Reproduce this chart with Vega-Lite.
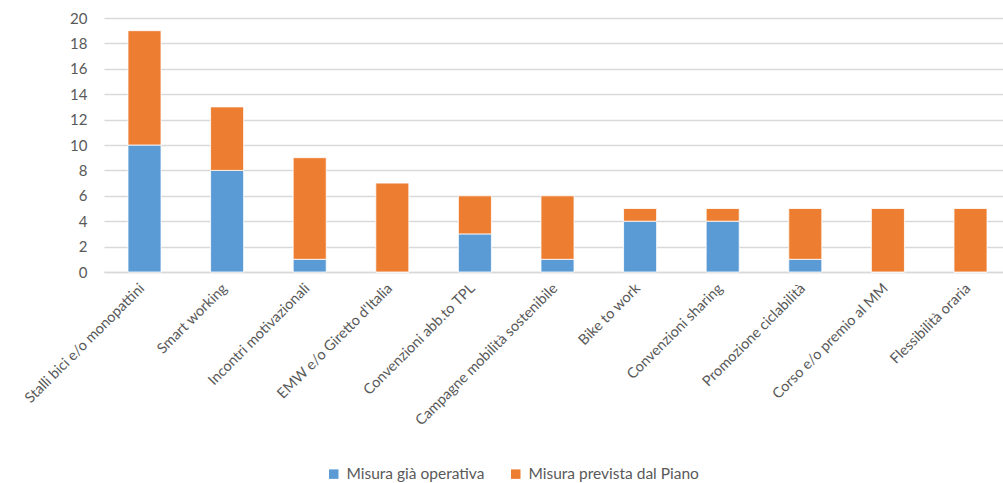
{
  "$schema": "https://vega.github.io/schema/vega-lite/v6.json",
  "width": 899,
  "height": 254,
  "autosize": {"type": "none"},
  "padding": {"left": 104, "top": 18, "right": 0, "bottom": 211},
  "background": "white",
  "config": {
    "font": "Lato",
    "view": {"stroke": null},
    "axis": {"labelColor": "#595959", "labelFont": "Lato", "labelFontSize": 13}
  },
  "data": {
    "values": [
      {"misura": "Stalli bici e/o monopattini", "serie": "Misura già operativa", "ord": 1, "n": 10},
      {"misura": "Stalli bici e/o monopattini", "serie": "Misura prevista dal Piano", "ord": 2, "n": 9},
      {"misura": "Smart working", "serie": "Misura già operativa", "ord": 1, "n": 8},
      {"misura": "Smart working", "serie": "Misura prevista dal Piano", "ord": 2, "n": 5},
      {"misura": "Incontri motivazionali", "serie": "Misura già operativa", "ord": 1, "n": 1},
      {"misura": "Incontri motivazionali", "serie": "Misura prevista dal Piano", "ord": 2, "n": 8},
      {"misura": "EMW e/o Giretto d'Italia", "serie": "Misura già operativa", "ord": 1, "n": 0},
      {"misura": "EMW e/o Giretto d'Italia", "serie": "Misura prevista dal Piano", "ord": 2, "n": 7},
      {"misura": "Convenzioni abb.to TPL", "serie": "Misura già operativa", "ord": 1, "n": 3},
      {"misura": "Convenzioni abb.to TPL", "serie": "Misura prevista dal Piano", "ord": 2, "n": 3},
      {"misura": "Campagne mobilità sostenibile", "serie": "Misura già operativa", "ord": 1, "n": 1},
      {"misura": "Campagne mobilità sostenibile", "serie": "Misura prevista dal Piano", "ord": 2, "n": 5},
      {"misura": "Bike to work", "serie": "Misura già operativa", "ord": 1, "n": 4},
      {"misura": "Bike to work", "serie": "Misura prevista dal Piano", "ord": 2, "n": 1},
      {"misura": "Convenzioni sharing", "serie": "Misura già operativa", "ord": 1, "n": 4},
      {"misura": "Convenzioni sharing", "serie": "Misura prevista dal Piano", "ord": 2, "n": 1},
      {"misura": "Promozione ciclabilità", "serie": "Misura già operativa", "ord": 1, "n": 1},
      {"misura": "Promozione ciclabilità", "serie": "Misura prevista dal Piano", "ord": 2, "n": 4},
      {"misura": "Corso e/o premio al MM", "serie": "Misura già operativa", "ord": 1, "n": 0},
      {"misura": "Corso e/o premio al MM", "serie": "Misura prevista dal Piano", "ord": 2, "n": 5},
      {"misura": "Flessibilità oraria", "serie": "Misura già operativa", "ord": 1, "n": 0},
      {"misura": "Flessibilità oraria", "serie": "Misura prevista dal Piano", "ord": 2, "n": 5}
    ]
  },
  "mark": {"type": "bar", "stroke": "white", "strokeWidth": 0.8},
  "encoding": {
    "x": {
      "field": "misura",
      "type": "nominal",
      "sort": null,
      "scale": {"paddingInner": 0.6, "paddingOuter": 0.242, "align": 0.6},
      "axis": {
        "title": null,
        "labelAngle": -45,
        "labelAlign": "right",
        "labelBaseline": "middle",
        "labelPadding": 14,
        "labelOffset": -2,
        "labelLimit": 400,
        "ticks": false,
        "domainColor": "#D9D9D9",
        "domainWidth": 1.3,
        "labelFontSize": 14.5
      }
    },
    "y": {
      "field": "n",
      "type": "quantitative",
      "stack": "zero",
      "scale": {"domain": [0, 20], "nice": false},
      "axis": {
        "title": null,
        "values": [0, 2, 4, 6, 8, 10, 12, 14, 16, 18, 20],
        "ticks": false,
        "domain": false,
        "gridColor": "#D9D9D9",
        "gridWidth": 1.3,
        "labelPadding": 17,
        "labelFontSize": 15
      }
    },
    "color": {
      "field": "serie",
      "type": "nominal",
      "scale": {
        "domain": ["Misura già operativa", "Misura prevista dal Piano"],
        "range": ["#5B9BD5", "#ED7D31"]
      },
      "legend": {
        "title": null,
        "orient": "none",
        "direction": "horizontal",
        "legendX": 222,
        "legendY": 448,
        "symbolType": "square",
        "symbolSize": 90,
        "symbolStrokeWidth": 0,
        "labelFontSize": 15.5,
        "labelLimit": 400,
        "labelColor": "#595959",
        "labelFont": "Lato",
        "columnPadding": 23,
        "labelOffset": 5
      }
    },
    "order": {"field": "ord", "type": "quantitative"}
  }
}
